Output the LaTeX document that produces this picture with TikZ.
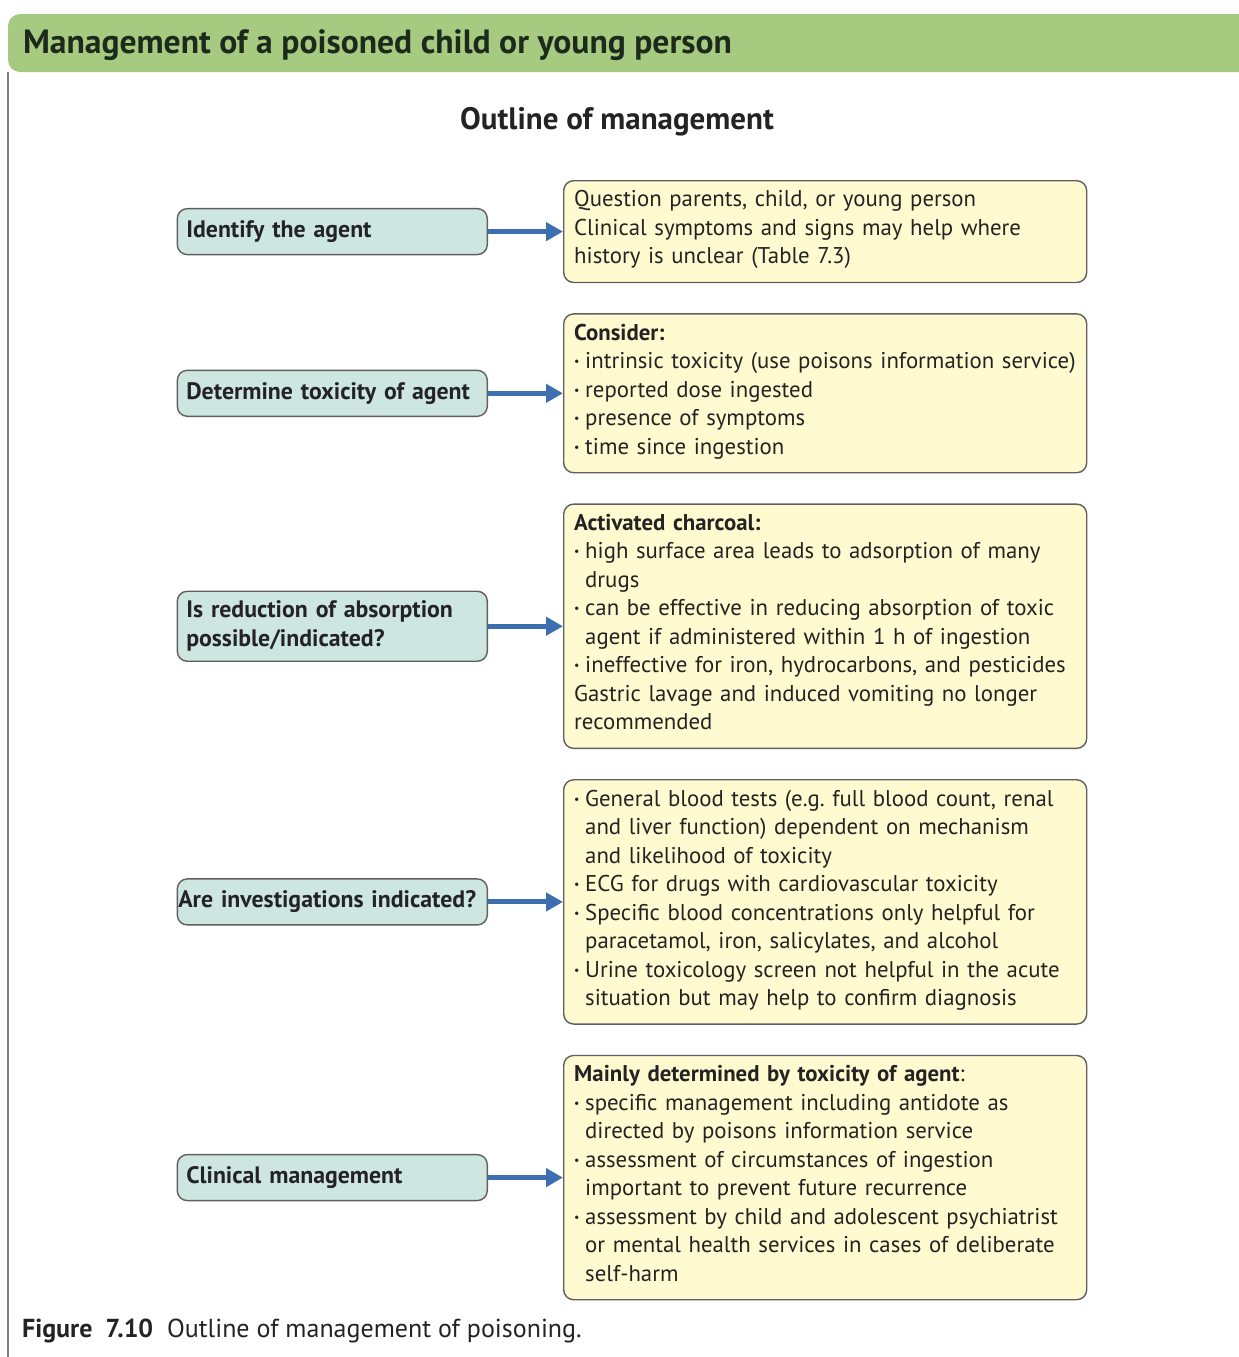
\documentclass[tikz,border=0pt]{standalone}
\usepackage{fontspec}
\setmainfont{PT Sans}
\usetikzlibrary{positioning, arrows.meta}
\setlength{\parindent}{0pt}

\definecolor{hdrgreen}{RGB}{166,203,128}
\definecolor{hdrtext}{RGB}{28,42,28}
\definecolor{qteal}{RGB}{205,231,224}
\definecolor{acream}{RGB}{255,250,208}
\definecolor{arrblue}{RGB}{61,111,176}
\definecolor{edgegrey}{RGB}{95,95,95}
\definecolor{inkgrey}{RGB}{35,35,35}

% bullet with hanging indent (\bmark opens, \bitem starts a new one)
\newcommand{\bmark}{\hangindent=5.5pt\hangafter=1%
  \makebox[5.5pt][l]{\raisebox{0.25ex}{\fontsize{6}{6}\selectfont\textbullet}}}
\newcommand{\bitem}{\par\bmark}
\newcommand{\nl}{\hfil\break}
\newcommand{\lastline}{\strut\par}

\begin{document}
\begin{tikzpicture}[x=0.5pt, y=-0.5pt,
  qbox/.style={draw=edgegrey, fill=qteal, rounded corners=5pt, line width=0.7pt,
               minimum width=155pt, minimum height=23pt, text width=146pt,
               inner xsep=4.5pt, align=left, text=inkgrey,
               font=\bfseries\fontsize{11.9}{14.5}\selectfont},
  ans/.style={draw=edgegrey, fill=acream, rounded corners=5pt, line width=0.7pt,
              text width=251pt, inner xsep=5.25pt, inner ysep=5pt, align=left,
              text=inkgrey, font=\fontsize{11.4}{14.25}\selectfont,
              execute at begin node={\hyphenpenalty=10000\relax}},
  arr/.style={-{Triangle[length=8.5pt, width=9pt]}, line width=2.5pt, color=arrblue},
  node distance=15pt,
]
\useasboundingbox (0,0) rectangle (1239,1357);

% header bar and frame
\fill[hdrgreen, rounded corners=6pt] (8,14) rectangle (1270,72);
\draw[edgegrey!80, line width=1.1pt] (8,72) -- (8,1357);
\node[anchor=west, text=hdrtext, font=\bfseries\fontsize{16.8}{19}\selectfont] (title) at (16,45)
  {Management of a poisoned child or young person};

% subtitle
\node[text=inkgrey, font=\bfseries\fontsize{15.5}{18}\selectfont] (outline) at (617,122)
  {Outline of management};

% answer boxes (right column)
\node[ans, anchor=north west] (a1) at (563,180)
  {Question parents, child, or young person\nl
   Clinical symptoms and signs may help where\nl
   history is unclear (Table 7.3)\lastline};
\node[ans, below=of a1] (a2)
  {\textbf{Consider:}%
   \bitem intrinsic toxicity (use poisons information service)%
   \bitem reported dose ingested%
   \bitem presence of symptoms%
   \bitem time since ingestion\lastline};
\node[ans, below=of a2] (a3)
  {\textbf{Activated charcoal:}%
   \bitem high surface area leads to adsorption of many\nl drugs%
   \bitem can be effective in reducing absorption of toxic\nl agent if administered within 1 h of ingestion%
   \bitem ineffective for iron, hydrocarbons, and pesticides\par
   Gastric lavage and induced vomiting no longer\nl recommended\lastline};
\node[ans, below=of a3] (a4)
  {\bmark General blood tests (e.g.\ full blood count, renal\nl and liver function) dependent on mechanism\nl and likelihood of toxicity%
   \bitem ECG for drugs with cardiovascular toxicity%
   \bitem Specific blood concentrations only helpful for\nl paracetamol, iron, salicylates, and alcohol%
   \bitem Urine toxicology screen not helpful in the acute\nl situation but may help to confirm diagnosis\lastline};
\node[ans, below=of a4] (a5)
  {\textbf{Mainly determined by toxicity of agent}:%
   \bitem specific management including antidote as\nl directed by poisons information service%
   \bitem assessment of circumstances of ingestion\nl important to prevent future recurrence%
   \bitem assessment by child and adolescent psychiatrist\nl or mental health services in cases of deliberate\nl self-harm\lastline};

% question boxes (left column)
\node[qbox, left=37.5pt of a1] (q1) {Identify the agent};
\node[qbox, left=37.5pt of a2] (q2) {Determine toxicity of agent};
\node[qbox, left=37.5pt of a3, minimum height=35pt] (q3) {Is reduction of absorption\\ possible/indicated?};
\node[qbox, left=37.5pt of a4, inner xsep=0.5pt, text width=154pt] (q4) {Are investigations indicated?};
\node[qbox, left=37.5pt of a5] (q5) {Clinical management};

% arrows
\foreach \i in {1,...,5}
  \draw[arr] (q\i) -- (a\i);

% caption
\node[anchor=west, text=inkgrey, font=\fontsize{13}{15}\selectfont] (caption) at (15,1331)
  {\textbf{Figure\ \ 7.10}\ \ Outline of management of poisoning.};
\end{tikzpicture}
\end{document}
